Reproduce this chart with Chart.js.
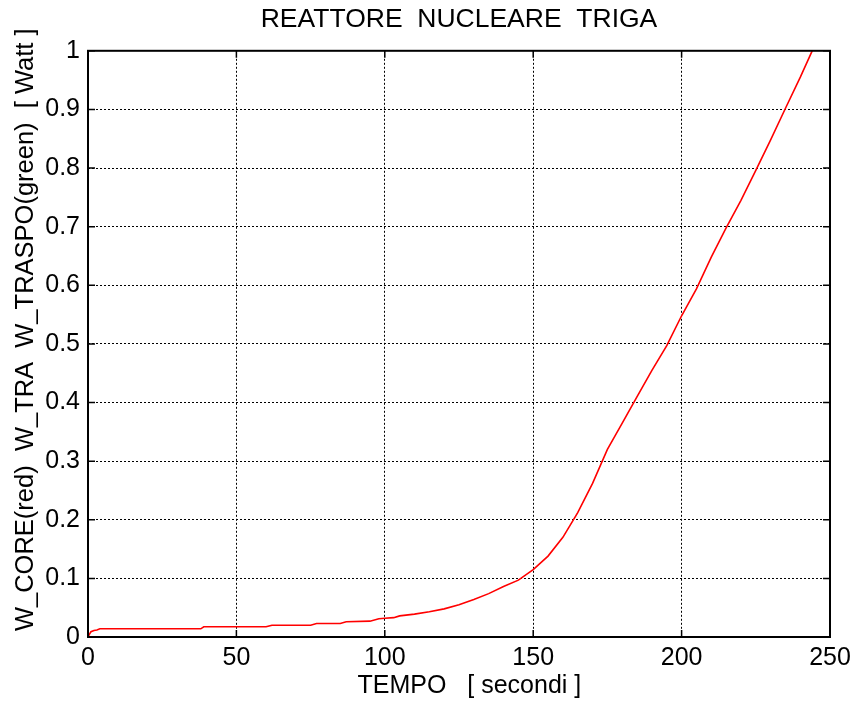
<!DOCTYPE html>
<html>
<head>
<meta charset="utf-8">
<script src="https://cdn.jsdelivr.net/npm/chart.js@4"></script>
<style>
  html, body { margin: 0; padding: 0; background: #fff; }
  #wrap { width: 857px; height: 709px; }
</style>
</head>
<body>
<div id="wrap"><canvas id="c" width="857" height="709"></canvas></div>
<script>
const chartTitle = 'REATTORE  NUCLEARE  TRIGA';
const xTitle = 'TEMPO   [ secondi ]';
const yTitle = 'W_CORE(red)  W_TRA  W_TRASPO(green)  [ Watt ]';

const timeSeconds = [0, 0.5, 1, 2, 3, 4, 38, 39, 60, 62, 75, 77, 85, 87, 95, 98, 100, 103, 105, 110, 115, 120, 125, 130, 135, 140, 145, 150, 155, 160, 165, 170, 175, 180, 185, 190, 195, 200, 205, 210, 215, 220, 225, 230, 235, 240, 244];
const wCore = [0, 0.005, 0.009, 0.011, 0.012, 0.014, 0.014, 0.0175, 0.0175, 0.020, 0.020, 0.023, 0.023, 0.026, 0.027, 0.031, 0.032, 0.033, 0.036, 0.039, 0.043, 0.048, 0.055, 0.064, 0.074, 0.086, 0.097, 0.115, 0.138, 0.170, 0.212, 0.262, 0.320, 0.365, 0.410, 0.455, 0.497, 0.548, 0.594, 0.648, 0.698, 0.745, 0.796, 0.848, 0.902, 0.955, 1.0];

const xTickValues = [0, 50, 100, 150, 200, 250];
const xTickLabels = ['0', '50', '100', '150', '200', '250'];
const yTickValues = [0, 0.1, 0.2, 0.3, 0.4, 0.5, 0.6, 0.7, 0.8, 0.9, 1];
const yTickLabels = ['0', '0.1', '0.2', '0.3', '0.4', '0.5', '0.6', '0.7', '0.8', '0.9', '1'];

const FONT = "'Liberation Sans', Arial, Helvetica, sans-serif";

const frameTicks = {
  id: 'frameTicks',
  afterDatasetsDraw(chart) {
    const { ctx, chartArea: { left, right, top, bottom }, scales: { x, y } } = chart;
    const L = 7;
    ctx.save();
    ctx.strokeStyle = '#000';
    ctx.lineWidth = 1.5;
    ctx.setLineDash([]);
    ctx.beginPath();
    x.ticks.forEach(t => {
      const px = x.getPixelForValue(t.value);
      ctx.moveTo(px, bottom); ctx.lineTo(px, bottom - L);
      ctx.moveTo(px, top); ctx.lineTo(px, top + L);
    });
    y.ticks.forEach(t => {
      const py = y.getPixelForValue(t.value);
      ctx.moveTo(left, py); ctx.lineTo(left + L, py);
      ctx.moveTo(right, py); ctx.lineTo(right - L, py);
    });
    ctx.stroke();
    ctx.lineWidth = 2;
    ctx.strokeRect(left, top, right - left, bottom - top);
    ctx.restore();
  }
};

new Chart(document.getElementById('c'), {
  type: 'line',
  data: {
    datasets: [{
      data: timeSeconds.map((t, i) => ({ x: t, y: wCore[i] })),
      borderColor: '#ff0000',
      borderWidth: 1.6,
      pointRadius: 0,
      tension: 0,
      fill: false
    }]
  },
  options: {
    responsive: false,
    animation: false,
    layout: { padding: { left: 0, right: 27, top: 0, bottom: 0 } },
    plugins: {
      legend: { display: false },
      tooltip: { enabled: false },
      title: {
        display: true,
        fullSize: false,
        text: chartTitle,
        color: '#000',
        font: { family: FONT, size: 26.5, weight: 'normal', lineHeight: 1.2 },
        padding: { top: 4, bottom: 15 }
      }
    },
    scales: {
      x: {
        type: 'linear',
        min: 0,
        max: 250,
        afterBuildTicks(scale) { scale.ticks = xTickValues.map(v => ({ value: v })); },
        afterFit(scale) { scale.height = 72; },
        ticks: {
          color: '#000',
          font: { family: FONT, size: 25 },
          padding: 6,
          maxRotation: 0,
          callback: (v) => xTickLabels[xTickValues.indexOf(v)]
        },
        grid: { color: '#000', lineWidth: 1, drawTicks: false },
        border: { display: false, dash: [2, 2] },
        title: {
          display: true,
          text: '   ' + xTitle,
          color: '#000',
          font: { family: FONT, size: 25, lineHeight: 1.2 },
          padding: { top: 0, bottom: 8 }
        }
      },
      y: {
        type: 'linear',
        min: 0,
        max: 1,
        afterBuildTicks(scale) { scale.ticks = yTickValues.map(v => ({ value: v })); },
        afterFit(scale) { scale.width = 88; },
        ticks: {
          color: '#000',
          font: { family: FONT, size: 25 },
          padding: 8,
          callback: (v) => yTickLabels[yTickValues.indexOf(v)]
        },
        grid: { color: '#000', lineWidth: 1, drawTicks: false },
        border: { display: false, dash: [2, 2] },
        title: {
          display: true,
          text: '    ' + yTitle,
          color: '#000',
          font: { family: FONT, size: 25.5, lineHeight: 1.2 },
          padding: { top: 11, bottom: 0 }
        }
      }
    }
  },
  plugins: [frameTicks]
});
</script>
</body>
</html>
